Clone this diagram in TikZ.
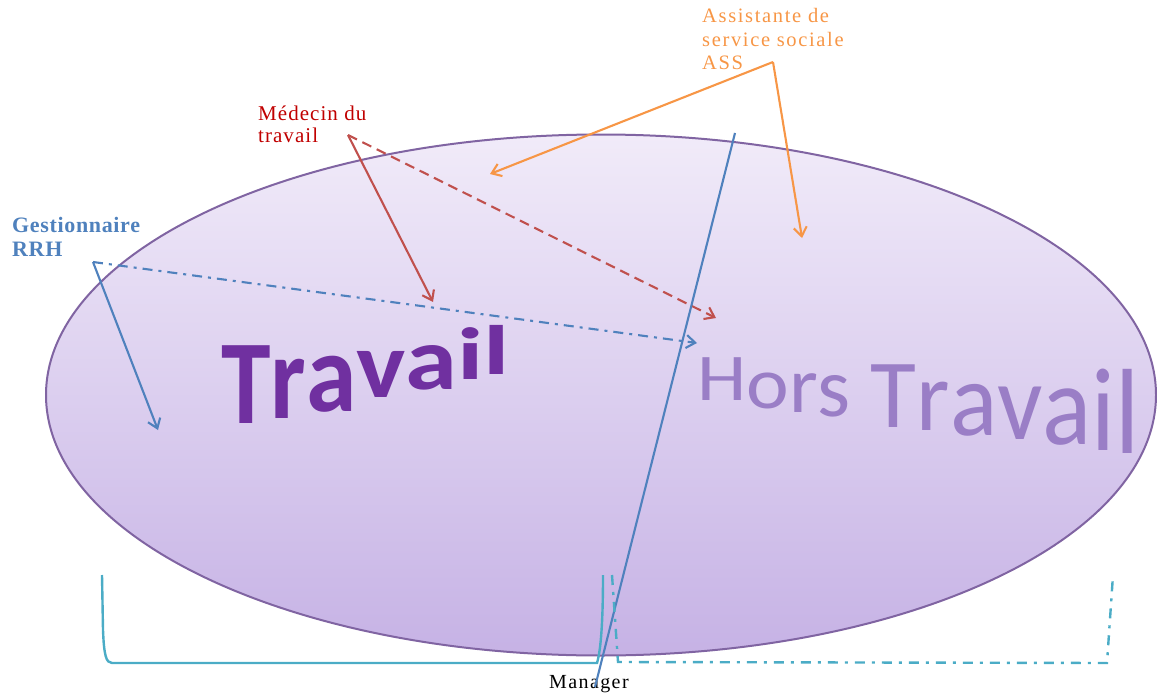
\documentclass[tikz,border=0pt]{standalone}
\usepackage{fontspec}
\usepackage{graphicx}
\setmainfont{Liberation Serif}
\newfontfamily\calfont{Carlito}
\usetikzlibrary{arrows.meta,shapes.geometric}
\definecolor{ellborder}{HTML}{8064A2}
\definecolor{elltop}{HTML}{F1EBF9}
\definecolor{ellbot}{HTML}{C6B2E5}
\definecolor{rrhblue}{HTML}{4F81BD}
\definecolor{rrhtext}{HTML}{4F81BD}
\definecolor{medred}{HTML}{C0504D}
\definecolor{medtext}{HTML}{C00000}
\definecolor{assorange}{HTML}{F79646}
\definecolor{brteal}{HTML}{4BACC6}
\definecolor{travpurple}{HTML}{7030A0}
\definecolor{horspurple}{HTML}{9A7EC6}
% perspective letter: x-scale, y-scale, raise, letter
\newcommand\pl[4]{\raisebox{#3pt}{\scalebox{#1}[#2]{#4}}}
\tikzset{
  lbl/.style={anchor=base west, inner sep=0pt, align=left},
  conn/.style={line width=2.1pt, -{Straight Barb[length=9pt,width=13pt]}},
  dashdotpat/.style={dash pattern=on 10pt off 6pt on 3pt off 6pt},
  dashpat/.style={dash pattern=on 10pt off 6pt},
  bracket/.style={brteal, line width=2.4pt},
}
\begin{document}
\begin{tikzpicture}[x=1pt,y=-1pt]
\useasboundingbox (0,0) rectangle (1157,693);
% ellipse
\node[ellipse, draw=ellborder, line width=2pt, top color=elltop, bottom color=ellbot,
      minimum width=1110pt, minimum height=521pt, inner sep=0pt] (ell) at (601,395) {};
% big words
\node[anchor=base west, inner sep=0pt, text=travpurple,
      font=\calfont\bfseries\fontsize{100}{100}\selectfont] (trav) at (221,423)
  {\pl{1}{1.2}{0}{T}\pl{1}{1.2}{5}{r}\pl{1.02}{1.12}{12}{a}\pl{1.04}{0.95}{26}{v}\pl{1.05}{0.89}{34}{a}\pl{1.07}{0.74}{44}{i}\pl{1.07}{0.7}{49}{l}};
\node[anchor=base west, inner sep=0pt, text=horspurple,
      font=\calfont\fontsize{94}{94}\selectfont] (hors) at (697,400)
  {\pl{0.84}{0.71}{0}{H}\pl{0.86}{0.78}{-8}{o}\pl{0.88}{0.85}{-12}{r}\pl{0.9}{0.9}{-16}{s}\hspace{20pt}\pl{1}{1.04}{-27}{T}\pl{1.02}{1.06}{-30}{r}\pl{1.05}{1.12}{-35}{a}\pl{1.07}{1.17}{-39}{v}\pl{1.09}{1.22}{-44}{a}\pl{1.1}{1.26}{-50}{i}\pl{1.12}{1.29}{-53}{l}};
% labels
\node[lbl, text=rrhtext, font=\bfseries\fontsize{22}{24}\selectfont\addfontfeatures{LetterSpace=3}] (gest) at (12,256) {Gestionnaire\\RRH};
\node[lbl, text=medtext, font=\fontsize{21}{22}\selectfont\addfontfeatures{LetterSpace=5}] (med) at (258,142) {Médecin du\\travail};
\node[lbl, text=assorange, font=\fontsize{20.5}{23.5}\selectfont\addfontfeatures{LetterSpace=8}] (ass) at (702,70) {Assistante de\\service sociale\\ASS};
\node[lbl, text=black, font=\fontsize{20}{20}\selectfont\addfontfeatures{LetterSpace=7}] (mgr) at (549,688) {Manager};
% vertices and targets
\coordinate (gv) at (93,262);
\coordinate (g1) at (158,430);
\coordinate (g2) at (697,343);
\coordinate (mv) at (348,135);
\coordinate (m1) at (433,302);
\coordinate (m2) at (716,318);
\coordinate (av) at (773,62);
\coordinate (a1) at (490,174);
\coordinate (a2) at (802,238);
\coordinate (mb) at (595,687);
\coordinate (mt) at (735,133);
% connectors
\draw[conn, rrhblue] (gv) -- (g1);
\draw[conn, rrhblue, dashdotpat] (gv) -- (g2);
\draw[conn, medred] (mv) -- (m1);
\draw[conn, medred, dashpat] (mv) -- (m2);
\draw[conn, assorange] (av) -- (a1);
\draw[conn, assorange] (av) -- (a2);
\draw[rrhblue, line width=2.1pt] (mb) -- (mt);
% brackets
\draw[bracket] (102,575) -- (103,630) .. controls (104,655) and (106,663) .. (112,663)
  -- (597,663) .. controls (601,650) and (603,620) .. (603,575);
\draw[bracket, dash pattern=on 10pt off 7pt on 3pt off 7pt] (612,575) -- (618,662) -- (1107,663) -- (1113,575);
\end{tikzpicture}
\end{document}
